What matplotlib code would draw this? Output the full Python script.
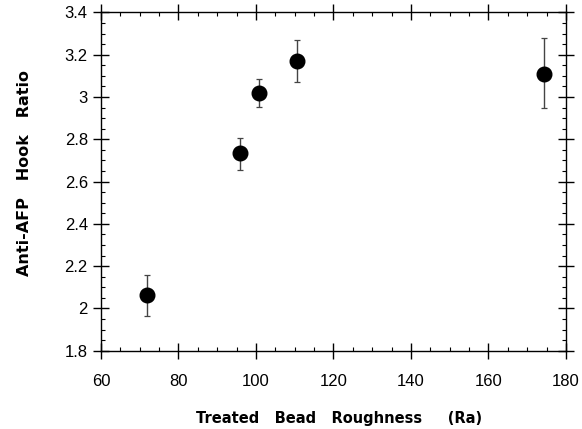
import matplotlib
matplotlib.use('Agg')
import matplotlib.pyplot as plt
from matplotlib.ticker import MultipleLocator

# roughness (Ra) vs hook ratio, with error bar ends
roughness = [72, 95.8, 100.7, 110.5, 174.4]
hook_ratio = [2.065, 2.737, 3.021, 3.169, 3.108]
err_low = [1.964, 2.656, 2.952, 3.07, 2.946]
err_high = [2.157, 2.806, 3.086, 3.27, 3.281]

x_ticks = [60, 80, 100, 120, 140, 160, 180]
y_ticks = [1.8, 2.0, 2.2, 2.4, 2.6, 2.8, 3.0, 3.2, 3.4]
y_tick_labels = ['1.8', '2', '2.2', '2.4', '2.6', '2.8', '3', '3.2', '3.4']

plt.rcParams['font.family'] = ['Liberation Sans', 'DejaVu Sans']

fig = plt.figure(figsize=(5.82, 4.29), dpi=100)
ax = fig.add_axes([0.1735, 0.1825, 0.799, 0.7885])

yerr = [[y - lo for y, lo in zip(hook_ratio, err_low)],
        [hi - y for y, hi in zip(hook_ratio, err_high)]]
ax.errorbar(roughness, hook_ratio, yerr=yerr, fmt='o', color='black',
            ecolor='#444444', elinewidth=1.0, capsize=2.5, capthick=0.9,
            markersize=10.5)

ax.set_xlim(60, 180)
ax.set_ylim(1.8, 3.4)
ax.set_xticks(x_ticks)
ax.set_xticklabels([str(t) for t in x_ticks])
ax.set_yticks(y_ticks)
ax.set_yticklabels(y_tick_labels)
ax.xaxis.set_minor_locator(MultipleLocator(5))
ax.yaxis.set_minor_locator(MultipleLocator(0.05))

ax.tick_params(which='major', direction='inout', length=11, width=1.0,
               top=True, right=True, labelsize=12)
ax.tick_params(axis='x', which='major', pad=11)
ax.tick_params(axis='y', which='major', pad=4)
ax.tick_params(which='minor', direction='in', length=3, width=0.8,
               top=True, right=True)
for sp in ax.spines.values():
    sp.set_linewidth(1.0)

# axis titles placed by hand, wide bold lettering like the original
fig.text(0.583, 1 - 423 / 429, 'Treated   Bead   Roughness     (Ra)',
         family='DejaVu Sans', fontsize=10.5, fontweight='bold',
         ha='center', va='baseline')
fig.text(25 / 582, 1 - 172.5 / 429, 'Anti-AFP   Hook   Ratio',
         family='DejaVu Sans', fontsize=11.5, fontweight='bold',
         rotation=90, ha='center', va='center')

plt.savefig('out.png', dpi=100)
